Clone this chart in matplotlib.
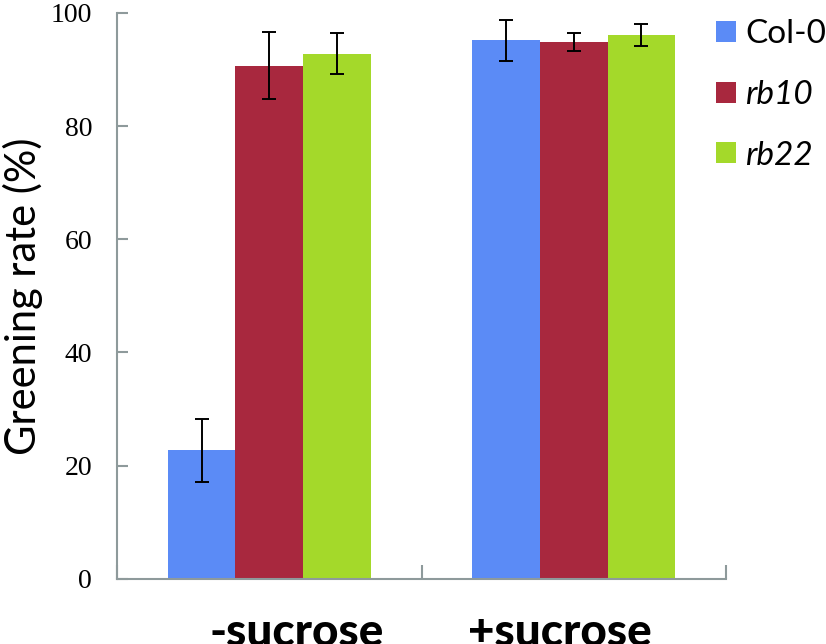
import matplotlib
matplotlib.use("Agg")
import matplotlib.pyplot as plt
from matplotlib.transforms import ScaledTranslation
import numpy as np

groups = ["-sucrose", "+sucrose"]
series = ["Col-0", "rb10", "rb22"]
values = {
    "Col-0": [22.7, 95.2],
    "rb10": [90.7, 94.9],
    "rb22": [92.8, 96.1],
}
errors = {
    "Col-0": [5.6, 3.6],
    "rb10": [5.9, 1.6],
    "rb22": [3.6, 2.0],
}
colors = {"Col-0": "#5B8BF6", "rb10": "#A8283E", "rb22": "#A4D92A"}
yticks = [0, 20, 40, 60, 80, 100]

fig = plt.figure(figsize=(8.26, 6.44), dpi=100)
ax = fig.add_axes([117/826, 1-578.7/644, (726-117)/826, (578.7-13)/644])

x = np.arange(len(groups))
w = 0.222
axis_col = "#8E9A9B"
handles = []
for i, s in enumerate(series):
    pos = x + (i - 1) * w
    b = ax.bar(pos, values[s], w, color=colors[s], label=s, zorder=2)
    ax.errorbar(pos, values[s], yerr=errors[s], fmt="none", ecolor="black",
                elinewidth=1.4, capsize=5, capthick=1.4, zorder=3)
    handles.append(b)

ax.set_xlim(-0.5, 1.5)
ax.set_ylim(0, 100)
ax.set_yticks(yticks)
ax.set_yticklabels([str(t) for t in yticks], fontfamily="Liberation Serif", fontsize=20)
ax.tick_params(axis="y", direction="in", length=8, width=1.5, color=axis_col, pad=18)

ax.set_xticks([-0.5, 0.5, 1.5])
ax.set_xticklabels([])
ax.set_xticks(x, minor=True)
ax.set_xticklabels(groups, minor=True, fontfamily="Lato", fontweight="black", fontsize=33)
ax.tick_params(axis="x", which="major", direction="in", length=10, width=1.5, color=axis_col)
ax.tick_params(axis="x", which="minor", length=0, pad=24)
shifts = [27, -14]
for lab, dx in zip(ax.get_xticklabels(minor=True), shifts):
    lab.set_transform(lab.get_transform() + ScaledTranslation(dx/100, 0, fig.dpi_scale_trans))

for sp in ["top", "right"]:
    ax.spines[sp].set_visible(False)
for sp in ["left", "bottom"]:
    ax.spines[sp].set_color(axis_col)
    ax.spines[sp].set_linewidth(1.5)

ax.set_ylabel("Greening rate (%)", fontfamily="Lato", fontsize=30)
ax.yaxis.set_label_coords(-0.122, 0.5)

leg = fig.legend(handles, ["Col-0", "rb10", "rb22"], loc="upper left",
                 bbox_to_anchor=(703/826, 1-6/644), frameon=False,
                 prop={"family": "Lato", "size": 24},
                 handlelength=0.6, handleheight=0.6, handletextpad=0.27,
                 labelspacing=0.92, borderaxespad=0)
for t in leg.get_texts()[1:]:
    t.set_fontstyle("italic")

fig.savefig("out.png", dpi=100)
